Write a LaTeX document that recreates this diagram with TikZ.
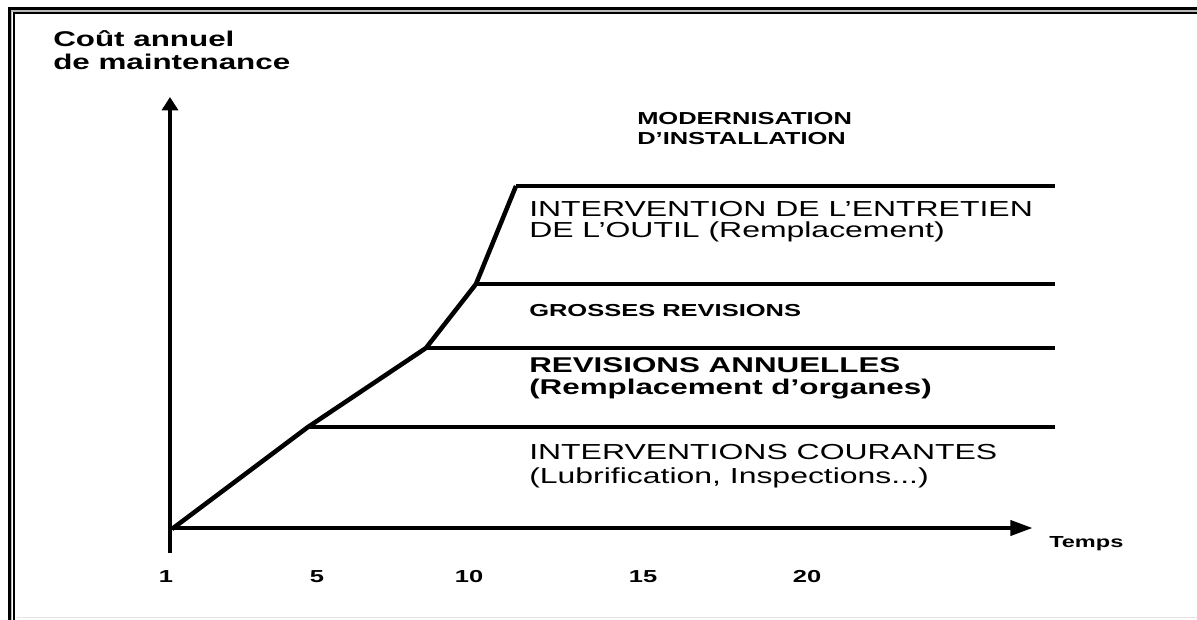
\documentclass[tikz,border=0pt]{standalone}
\usepackage{fontspec}
\setmainfont[FakeStretch=1.47]{Liberation Sans}
\usetikzlibrary{arrows.meta}
\begin{document}
\begin{tikzpicture}[x=0.75pt,y=-0.75pt,
  lbl/.style={anchor=base west,inner sep=0pt,font=\fontsize{16.3}{18}\selectfont},
  lblb/.style={anchor=base west,inner sep=0pt,font=\fontsize{16}{18}\selectfont\bfseries},
  smallb/.style={anchor=base west,inner sep=0pt,font=\fontsize{13}{15}\selectfont\bfseries},
  ticklbl/.style={anchor=base,inner sep=0pt,font=\fontsize{13}{15}\selectfont\bfseries},
  axisline/.style={line width=3.6pt},
  levelline/.style={line width=3.4pt,line join=miter},
]
\useasboundingbox (0,0) rectangle (1197,619);
% frame
\begin{scope}
  \clip (0,0) rectangle (1197,619);
  \draw[line width=2.3pt] (9.5,8.5) rectangle (1260,700);
  \draw[gray!55,line width=0.9pt] (11.8,11) rectangle (1260,700);
  \draw[line width=1.5pt] (14,13) rectangle (1260,700);
  \draw[gray!20,line width=0.8pt] (17,617.5) -- (1197,617.5);
\end{scope}
% coordinates
\coordinate (ybot) at (170,553);
\coordinate (ytop) at (170,97);
\coordinate (xl) at (168,528);
\coordinate (xr) at (1033,528);
\coordinate (O) at (172,529);
\coordinate (P1) at (308,427);
\coordinate (P2) at (426,348);
\coordinate (P3) at (476,284);
\coordinate (P4) at (516,186);
\coordinate (E1) at (1055,427);
\coordinate (E2) at (1055,348);
\coordinate (E3) at (1055,284);
\coordinate (E4) at (1055,186);
% axes
\draw[axisline,-{Triangle[length=10pt,width=12pt]}] (ybot) -- (ytop);
\draw[axisline,-{Triangle[length=17pt,width=11pt]}] (xl) -- (xr);
% curve and levels
\draw[levelline] (O) -- (P1) -- (P2) -- (P3) -- (P4);
\draw[levelline] (P1) -- (E1);
\draw[levelline] (P2) -- (E2);
\draw[levelline] (P3) -- (E3);
\draw[levelline] (P4) -- (E4);
% axis titles
\node[lblb] (t1) at (53,46) {Coût annuel};
\node[lblb] (t2) at (53,69) {de maintenance};
\node[anchor=base west,inner sep=0pt,font=\fontsize{12}{14}\selectfont\bfseries] (temps) at (1049,547) {Temps};
% ticks
\node[ticklbl] (k1) at (166,582) {1};
\node[ticklbl] (k5) at (317,582) {5};
\node[ticklbl] (k10) at (469,582) {10};
\node[ticklbl] (k15) at (643,582) {15};
\node[ticklbl] (k20) at (807,582) {20};
% labels
\node[smallb] (m1) at (637,124) {MODERNISATION};
\node[smallb] (m2) at (637,144) {D’INSTALLATION};
\node[lbl] (a1) at (529,216) {INTERVENTION DE L’ENTRETIEN};
\node[lbl] (a2) at (529,237) {DE L’OUTIL (Remplacement)};
\node[smallb] (g1) at (529,316) {GROSSES REVISIONS};
\node[lblb] (r1) at (529,372) {REVISIONS ANNUELLES};
\node[lblb] (r2) at (529,394) {(Remplacement d’organes)};
\node[lbl] (c1) at (529,459) {INTERVENTIONS COURANTES};
\node[lbl] (c2) at (529,483) {(Lubrification, Inspections...)};
\end{tikzpicture}
\end{document}
